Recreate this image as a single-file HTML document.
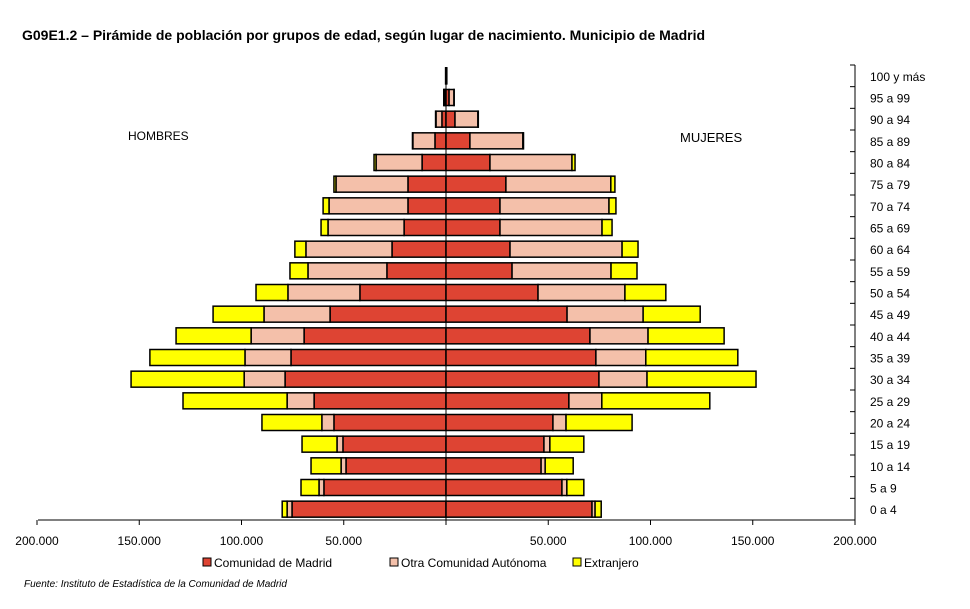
<!DOCTYPE html>
<html><head><meta charset="utf-8"><style>
body{margin:0;background:#fff;width:970px;height:604px;overflow:hidden}
svg{font-family:"Liberation Sans",Arial,sans-serif}
</style></head><body>
<svg id="c" width="970" height="604">
<text x="22" y="40" font-size="14" font-weight="bold">G09E1.2  – Pirámide de población por grupos de edad, según lugar de nacimiento. Municipio de Madrid</text>
<text x="128" y="140" font-size="12">HOMBRES</text>
<text x="680" y="142" font-size="13">MUJERES</text>
<text x="24" y="587" font-size="10" font-style="italic">Fuente: Instituto de Estadística de la Comunidad de Madrid</text>
</svg>
<script>
const ages=["0 a 4","5 a 9","10 a 14","15 a 19","20 a 24","25 a 29","30 a 34","35 a 39","40 a 44","45 a 49","50 a 54","55 a 59","60 a 64","65 a 69","70 a 74","75 a 79","80 a 84","85 a 89","90 a 94","95 a 99","100 y más"];
const menMadrid=[75.3,59.7,48.9,50.4,54.8,64.5,78.7,75.8,69.4,56.7,42.1,28.9,26.4,20.5,18.6,18.6,11.7,5.4,2.0,0.5,0.1];
const menOtra=[2.4,2.4,2.4,2.9,5.9,13.2,20.0,22.5,25.9,32.3,35.2,38.6,42.1,37.2,38.6,35.2,22.5,10.8,2.9,0.5,0.1];
const menExtr=[2.4,8.8,14.7,17.1,29.3,50.9,55.3,46.5,36.7,24.9,15.6,8.8,5.4,3.4,2.9,1.0,1.0,0.2,0.2,0.1,0];
const womMadrid=[71.4,56.7,46.5,47.9,52.3,60.1,74.8,73.3,70.4,59.2,45.0,32.3,31.3,26.4,26.4,29.3,21.5,11.7,4.4,1.5,0.2];
const womOtra=[1.5,2.4,2.0,2.9,6.4,16.1,23.5,24.4,28.4,37.2,42.5,48.4,54.8,49.9,53.3,51.3,40.1,25.9,11.2,2.4,0.2];
const womExtr=[3.0,8.3,13.7,16.6,32.3,52.8,53.3,45.0,37.2,27.9,20.0,12.7,7.8,4.9,3.4,2.0,1.5,0.3,0.2,0.1,0];
const ticks=[-200,-150,-100,-50,0,50,100,150,200];
const tickLabels=["200.000","150.000","100.000","50.000","","50.000","100.000","150.000","200.000"];
const legendNames=["Comunidad de Madrid","Otra Comunidad Autónoma","Extranjero"];
const colors=["#de4433","#f4c0aa","#ffff00"];
const svg=document.getElementById('c');const NS="http://www.w3.org/2000/svg";
const L=38,R=855,C=446,T=65,B=520;
const x=v=>C+v*(R-C)/200;
const rowH=(B-T)/ages.length;
const y=i=>B-(i+0.5)*rowH;
function mk(t,a){const e=document.createElementNS(NS,t);for(const k in a)e.setAttribute(k,a[k]);svg.appendChild(e);return e;}
const bh=16;
ages.forEach((a,i)=>{
  const m=[menMadrid[i],menOtra[i],menExtr[i]],w=[womMadrid[i],womOtra[i],womExtr[i]];
  let c=0;m.forEach((v,k)=>{if(v<=0)return;const r=mk('rect',{x:x(-(c+v)),y:y(i)-bh/2,width:x(0)-x(-v),height:bh,fill:colors[k],stroke:'#000','stroke-width':1.5});
    c+=v;});
  c=0;w.forEach((v,k)=>{if(v<=0)return;const r=mk('rect',{x:x(c),y:y(i)-bh/2,width:x(v)-x(0),height:bh,fill:colors[k],stroke:'#000','stroke-width':1.5});
    c+=v;});
  const t=mk('text',{x:870,y:y(i)+5,'font-size':12});t.textContent=a;
  
});
for(let i=0;i<=ages.length;i++){const l=mk('line',{x1:R-5,x2:R,y1:B-i*rowH,y2:B-i*rowH,stroke:'#000'});}
let e=mk('line',{x1:R,x2:R,y1:T,y2:B,stroke:'#000'});
e=mk('line',{x1:C,x2:C,y1:68,y2:B,stroke:'#000'});
e=mk('line',{x1:L,x2:R,y1:B,y2:B,stroke:'#000'});
ticks.forEach((t,i)=>{const l=mk('line',{x1:x(t),x2:x(t),y1:B,y2:B+5,stroke:'#000'});
  const tx=mk('text',{x:x(t),y:B+25,'font-size':12,'text-anchor':'middle'});tx.textContent=tickLabels[i];});
const lx=[203,390,573];
legendNames.forEach((n,k)=>{const r=mk('rect',{x:lx[k],y:558,width:8,height:8,fill:colors[k],stroke:'#000'});
  const t=mk('text',{x:lx[k]+11,y:567,'font-size':12});t.textContent=n;});
</script>
</body></html>
